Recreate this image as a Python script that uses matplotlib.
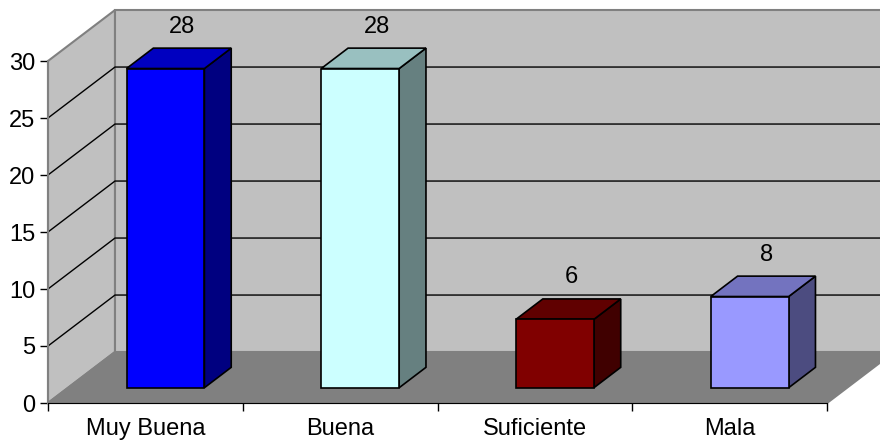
import matplotlib.pyplot as plt
from matplotlib.patches import Polygon

categorias = ['Muy Buena', 'Buena', 'Suficiente', 'Mala']
valores = [28, 28, 6, 8]
frente = ['#0000FF', '#CCFFFF', '#800000', '#9999FF']
arriba = ['#0000C0', '#99C0C0', '#600000', '#7373BF']
lado = ['#000080', '#668080', '#400000', '#4C4C80']
yticks = [0, 5, 10, 15, 20, 25, 30]

plt.rcParams['font.family'] = ['Liberation Sans', 'DejaVu Sans']
FS = 17

# depth offset of the 3D box, in data units
DX = 0.344
DY = 4.47
YMAX = 30
n = len(categorias)


def proj(x, v, d):
    return (x + d * DX, v + d * DY)


fig = plt.figure(figsize=(8.8, 4.41), dpi=100)
ax = fig.add_axes([48 / 880, 38 / 441, 779 / 880, 342 / 441])
ax.set_xlim(0, n)
ax.set_ylim(0, YMAX)

wall = '#C0C0C0'
edge = '#808080'

# left wall, back wall, floor
left_wall = [proj(0, 0, 0), proj(0, YMAX, 0), proj(0, YMAX, 1), proj(0, 0, 1)]
back_wall = [proj(0, 0, 1), proj(0, YMAX, 1), proj(n, YMAX, 1), proj(n, 0, 1)]
floor = [proj(0, 0, 0), proj(n, 0, 0), proj(n, 0, 1), proj(0, 0, 1)]
for pts, fc in [(left_wall, wall), (back_wall, wall), (floor, '#808080')]:
    ax.add_patch(Polygon(pts, closed=True, facecolor=fc, edgecolor=edge,
                         lw=1.5, clip_on=False, zorder=1))

# gridlines on the walls
for v in yticks[1:-1]:
    x0, y0 = proj(0, v, 0)
    x1, y1 = proj(0, v, 1)
    x2, y2 = proj(n, v, 1)
    ax.plot([x0, x1, x2], [y0, y1, y2], color='black', lw=1,
            clip_on=False, zorder=2)

# bars
w = 0.4
d0, d1 = 0.3, 0.7
for i, v in enumerate(valores):
    xa = i + 0.5 - w / 2
    xb = i + 0.5 + w / 2
    front = [proj(xa, 0, d0), proj(xb, 0, d0), proj(xb, v, d0), proj(xa, v, d0)]
    top = [proj(xa, v, d0), proj(xb, v, d0), proj(xb, v, d1), proj(xa, v, d1)]
    side = [proj(xb, 0, d0), proj(xb, v, d0), proj(xb, v, d1), proj(xb, 0, d1)]
    for pts, fc in [(side, lado[i]), (top, arriba[i]), (front, frente[i])]:
        ax.add_patch(Polygon(pts, closed=True, facecolor=fc, edgecolor='black',
                             lw=1.2, joinstyle='miter', clip_on=False, zorder=3))
    lx, ly = proj(i + 0.5, v, 0.55)
    ax.annotate(str(v), (lx, ly), xytext=(0, 21), textcoords='offset points',
                ha='center', va='center', fontsize=FS, annotation_clip=False)

ax.set_facecolor('none')
for s in ['top', 'right']:
    ax.spines[s].set_visible(False)
ax.spines['left'].set_color(edge)
ax.spines['left'].set_linewidth(1.5)
ax.spines['bottom'].set_color('black')
ax.spines['bottom'].set_zorder(4)

ax.set_yticks(yticks)
ax.set_yticklabels([str(t) for t in yticks], fontsize=FS)
ax.set_xticks(range(n + 1))
ax.set_xticklabels([])
ax.set_xticks([i + 0.5 for i in range(n)], minor=True)
ax.set_xticklabels(categorias, minor=True, fontsize=FS)
ax.tick_params(axis='x', which='minor', length=0, pad=11)
ax.tick_params(axis='both', which='major', length=6, width=1, color='black',
               direction='out')
ax.tick_params(axis='y', pad=3)

fig.savefig('out.png', dpi=100)
